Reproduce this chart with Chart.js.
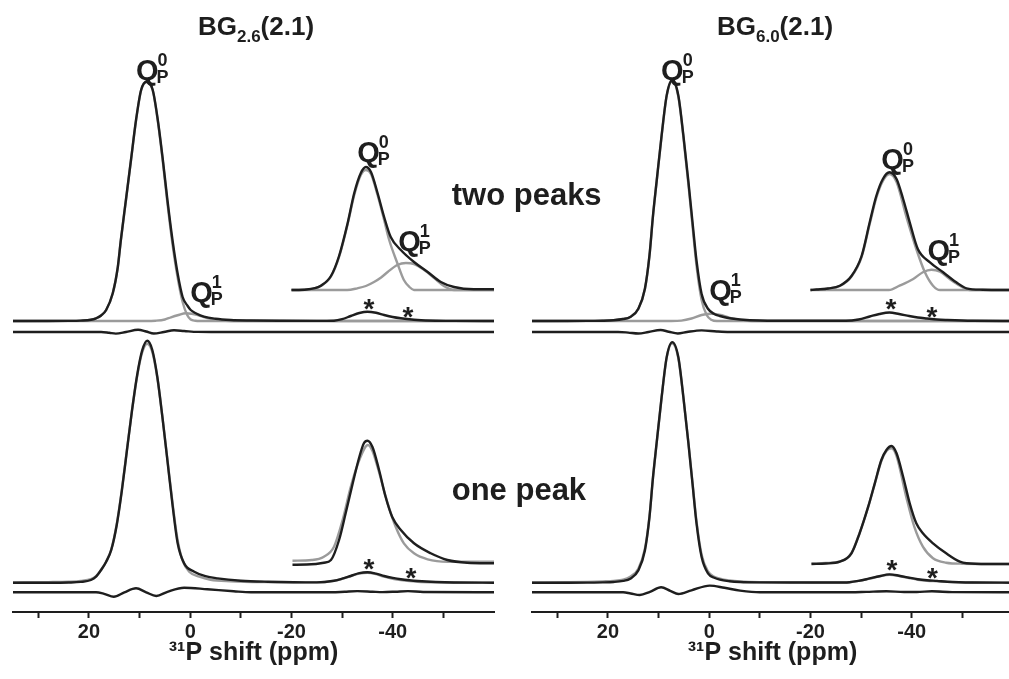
<!DOCTYPE html>
<html>
<head>
<meta charset="utf-8">
<script src="https://cdn.jsdelivr.net/npm/chart.js@4.4.1/dist/chart.umd.min.js"></script>
<style>
html,body{margin:0;padding:0;background:#fff;}
#wrap{position:relative;width:1009px;height:679px;overflow:hidden;background:#fff;}
#cl{position:absolute;left:0;top:0;}
#cr{position:absolute;left:519px;top:0;}
</style>
</head>
<body>
<div id="wrap">
<canvas id="cl" width="1009" height="679"></canvas>
<canvas id="cr" width="505" height="679"></canvas>
</div>
<script>
// ---------- axis ----------
const X_MIN = -60, X_MAX = 35;
const TICK_VALUES = [30, 20, 10, 0, -10, -20, -30, -40, -50];
const TICK_LABELED = [20, 0, -20, -40];
const AXIS_TITLE = '\u00B3\u00B9P shift (ppm)';

// ---------- trace baselines (intensity units) ----------
const BASE_TOP = 291, BASE_TOP_DIFF = 280, BASE_TOP_INSET = 322;
const BASE_BOT = 29.3, BASE_BOT_DIFF = 19.7, BASE_BOT_INSET = 48;

// ================= LEFT : BG2.6(2.1) =================
// two-peak fit, full spectrum
const L2_exp_ppm = [35,28,24,21.6,19.6,18.6,17.6,16.6,15.3,14.3,13.7,12.7,11.7,10.7,9.7,8.6,7.4,6.4,5.4,4.5,3.5,2.5,1.5,0.5,-0.1,-1.2,-2.7,-5,-8,-12,-18,-25,-28.4,-30,-31.7,-33.4,-35,-36.7,-38.3,-40,-41.6,-43.3,-44.9,-48.5,-52,-60];
const L2_exp     = [0,0,0.1,0.4,1.2,2.7,5.5,11,27.7,54,81,121,161,201,231,239.3,231,201,161,121,81,48,24,15,11,7.5,4.3,2.2,1,0.5,0.2,0.1,0.3,1.8,5,8,9.3,8.2,6,4,2.7,1.7,1,0.3,0.1,0];
const L2_q0_ppm  = [35,24,21.6,19.6,18.6,17.6,16.6,15.3,14.3,13.7,12.7,11.7,10.7,9.7,8.6,7.4,6.4,5.4,4.5,3.5,2.5,1.5,0.6,-0.1,-1,-2,-60];
const L2_q0      = [0,0.1,0.4,1.2,2.7,5.5,11,27.5,53.5,80.5,120.5,160.5,200.5,230.5,239,230.5,200,159,118,77,44,19,6,1.5,0.3,0,0];
const L2_q1_ppm  = [35,9,6.8,5,3.8,2.3,0.9,-0.3,-1.5,-2.7,-4,-5.5,-7,-9,-60];
const L2_q1      = [0,0,0.3,1.5,3.7,6,7.7,7.2,5.8,3.8,2.2,1,0.3,0,0];
const L2_diff_ppm= [35,20,17.6,16,14.7,12.7,10.3,8.7,7.2,5.2,3.2,1.2,-1.5,-4.1,-60];
const L2_diff    = [0,0,0,-0.8,-1.6,0,2.2,0.5,-1.5,0,1.7,1,0.1,0,0];
// two-peak fit, sideband inset
const L2i_exp_ppm= [-20,-23,-25.8,-27.8,-29.4,-31.1,-32.4,-33.7,-34.7,-35.7,-37,-38.3,-39.6,-41.6,-44.2,-46.9,-49.5,-52.1,-56,-60];
const L2i_exp    = [0,0.5,4.3,14,34,67,97,117,123,118,97,73,53,40,28,18,8,3,0.7,0.7];
const L2i_q0_ppm = [-20,-23,-25.8,-27.8,-29.4,-31.1,-32.4,-33.7,-34.7,-35.7,-37,-38.3,-39.3,-40.9,-42.2,-43.3,-44.2,-60];
const L2i_q0     = [0,0.5,4,13.5,33,66,95,115,120,116,95,70,50,27,10,3,0,0];
const L2i_q1_ppm = [-20,-31,-33,-34.7,-36.3,-37.7,-39,-40.9,-42.6,-44.2,-46.2,-48.2,-50.1,-52.1,-60];
const L2i_q1     = [0,0,1.7,4,8,12.5,18,25,27,26,20,12,4,0,0];
// one-peak fit, full spectrum
const L1_exp_ppm = [35,28,24,21.6,19.6,18.6,17.6,16.6,15.6,14.5,13.5,12.5,11.5,10.5,9.5,8.5,7.5,6.5,5.5,4.5,3.5,2.5,1.2,-0.8,-3,-5.4,-10,-15.3,-25,-28.4,-30,-31.7,-33.4,-35,-36.7,-38.3,-40,-41.6,-43.3,-44.9,-48.5,-52,-60];
const L1_exp     = [0,0,0.2,0.8,2.7,6,12.7,21,32.7,58,92,132,172,207,232,242,233,206,166,122,78,40,19.3,11,6.5,4.3,2,1,0.3,2,4,6.7,9.5,10.4,9,6.7,4.8,3.4,2.4,1.7,0.7,0.2,0];
const L1_fit_ppm = [35,28,24,21.6,19.6,18.6,17.6,16.6,15.6,14.5,13.5,12.5,11.5,10.5,9.5,8.5,7.5,6.5,5.5,4.5,3.5,2.5,1.5,0.2,-1.8,-4,-8,-15,-25,-28.4,-30,-31.7,-33.4,-35,-36.7,-38.3,-40,-41.6,-43.3,-44.9,-48.5,-52,-60];
const L1_fit     = [0.3,0.6,1,1.8,3.6,6.5,13,21,33,59,93,133,172,206,230,239,231,205,166,123,80,43,22,11,6,3,1.5,0.6,0.3,1.8,3.8,6.5,9.2,10,8.6,6,4,2.6,1.6,1,0.4,0.2,0];
const L1_diff_ppm= [35,20,18.6,17,15.1,13,10.7,8.7,6.7,4.5,1.2,-3.4,-8.6,-12,-28,-30.5,-33,-36,-38,-40.5,-43,-46,-60];
const L1_diff    = [0,0,0,-1.5,-4.4,0,4,0,-3.7,0.5,4.6,3,1,0,0,0.6,1.2,0.6,0.2,0.6,1.2,0.3,0];
// one-peak fit, sideband inset
const L1i_exp_ppm= [-20.2,-23,-26.4,-27.8,-29.4,-30.7,-32.1,-33.4,-34.3,-35,-36,-37.3,-38.6,-39.9,-41.6,-44.2,-47.5,-50.8,-54.7,-60];
const L1i_exp    = [-0.7,-0.5,1.3,4,24,50.7,80.7,107,120.7,123.3,117,94,67,47,34,20.7,10.7,4,1.3,0.7];
const L1i_fit_ppm= [-20.2,-24,-26.4,-28.4,-30.1,-31.7,-33.4,-35.1,-36,-37,-39,-40.6,-42.2,-44.2,-46.9,-50.8,-60];
const L1i_fit    = [3.3,4,7.3,17.3,44,77,104,119,113,97,60.7,37,20.7,10.7,4.7,2.3,2.3];

// ================= RIGHT : BG6.0(2.1) =================
const R2_exp_ppm = [35,28,24,21,18.9,17,15.6,14,12.7,11.8,11.1,10.4,9.4,8.4,7.3,6.1,5.1,4.1,3.3,2.5,1.5,0.2,-1,-2.1,-4,-6.1,-10,-18,-27,-29.5,-31.7,-33.6,-35.6,-37.5,-39.5,-41.2,-43,-45,-47,-52,-60];
const R2_exp     = [0,0,0.1,0.3,0.8,2,4,12.3,32.3,65.6,105.6,139,185.6,225.6,241,225.6,185.6,139,99,60,27,12,7,5,2.7,1.5,0.5,0.2,0.2,1.5,4.5,7,8.5,7,5,3.5,2.5,1.5,1,0.2,0];
const R2_q0_ppm  = [35,24,21,18.9,17,15.6,14,12.7,11.8,11.1,10.4,9.4,8.4,7.3,6.1,5.1,4.1,3.3,2.5,1.5,0.5,-0.5,-1.5,-60];
const R2_q0      = [0,0.1,0.3,0.8,2,4,12,32,65,105,138.5,185,225,240,224.5,184,136,95,55,21,6,1,0,0];
const R2_q1_ppm  = [35,7.5,5.5,3.5,1.5,-0.5,-2.5,-4.5,-6.5,-8.5,-60];
const R2_q1      = [0,0,0.4,2.5,6,7.3,5.8,2.5,0.6,0,0];
const R2_diff_ppm= [35,18,16,14,12,9.6,8,6.2,4.4,1.5,-1.5,-4,-60];
const R2_diff    = [0,0,-0.6,-1.5,0,2,0.3,-1.5,0,1.6,0.5,0,0];
const R2i_exp_ppm= [-20,-21.2,-23.5,-25.8,-28.1,-30.1,-31.7,-33,-34.3,-35.6,-37,-38.3,-39.6,-41.2,-43.6,-46.2,-48.8,-50.8,-54,-60];
const R2i_exp    = [0,0.5,1.5,4.3,14,34,67.7,94,111,117.7,111,91,67.7,41,27.7,17.7,7.7,1.7,0.3,0];
const R2i_q0_ppm = [-20,-23.5,-25.8,-28.1,-30.1,-31.7,-33,-34.3,-35.6,-37,-38.9,-40.9,-42.6,-44.2,-45.6,-60];
const R2i_q0     = [0,1.5,4,13.5,33,66,92,109,116,108,74,41,17.7,4.3,0,0];
const R2i_q1_ppm = [-20,-35.5,-37.6,-40.3,-42.2,-43.9,-45.6,-47.5,-49.5,-51.4,-60];
const R2i_q1     = [0,0,4.3,11,17.7,20.3,18.3,11,4.3,0,0];
const R1_exp_ppm = [35,28,24,21,18.9,17,15.6,14,12.7,11.8,11.1,10.4,9.4,8.4,7.3,6.1,5.1,4.1,3.3,2.5,1.5,0.2,-1,-2.1,-4,-6.1,-10,-18,-25,-27.7,-29.5,-31.5,-33.6,-35.6,-37.5,-39.5,-41.2,-43,-45,-47,-52,-60];
const R1_exp     = [0,0,0.1,0.3,0.7,1.8,4,12.3,32.3,65.6,105.6,139,185.6,225.6,240.6,225.6,185.6,139,99,59,25.6,9,5,3,1.5,0.7,0.3,0.2,0.2,0.5,1.8,4,6.5,8.3,7,5,3.5,2.5,1.8,1,0.2,0];
const R1_fit     = [0.3,0.5,0.8,1.3,1.8,3,6,14,34,66,105,138.5,185,225,239.5,224.5,185,139.5,100,61,28,11,6,4,2.2,1.2,0.5,0.3,0.2,0.5,1.8,3.8,6.3,8,6.7,4.6,3,2,1.4,0.8,0.2,0];
const R1_diff_ppm= [35,20,17,15.5,13.7,11.7,9.5,7.7,6.1,3.5,-0.1,-3,-6.1,-10,-28,-31,-35,-38.5,-41,-44,-48,-60];
const R1_diff    = [0,0,0,-1.2,-2.7,0.5,5,1.5,-1.7,2,6.7,4.5,1.7,0,0,0.4,1,0.3,0.3,1,0.2,0];
const R1i_exp_ppm= [-20.2,-23,-25.8,-28.1,-29.7,-31.4,-32.7,-34,-35,-36,-37,-38.3,-39.6,-40.9,-42.2,-44.2,-46.8,-49.5,-50.8,-55,-60];
const R1i_exp    = [0,0.5,2.3,10.7,30.7,57.3,80.7,104,114,118,110.7,87.3,60.7,40.7,30.7,20.7,10.7,2.3,0.7,0,0];
const R1i_fit_ppm= [-20.2,-23,-25.8,-28.1,-29.7,-31.4,-32.7,-34,-35,-36,-37,-38.9,-40.5,-42.2,-44.2,-46.8,-50,-60];
const R1i_fit    = [0.5,1,2.5,11,31,57,80,103,113,115.7,108,67.3,37.3,17.3,5.7,1.3,0.3,0];

// ---------- labels (data coordinates: ppm, intensity) ----------
const L_LABELS = [
  {kind:'title', main:'BG', sub:'2.6', tail:'(2.1)', x:-13.0, y:577},
  {kind:'q', sup:'0', x:10.7, y:532},
  {kind:'q', sup:'1', x:0.0, y:310},
  {kind:'q', sup:'0', x:-33.0, y:450},
  {kind:'q', sup:'1', x:-41.1, y:361},
  {kind:'ast', x:-35.3, y:310}, {kind:'ast', x:-43.0, y:302},
  {kind:'ast', x:-35.3, y:50},  {kind:'ast', x:-43.6, y:41},
  {kind:'text', text:'two peaks', x:-51.65, y:407},
  {kind:'text', text:'one peak',  x:-51.65, y:112}
];
const R_LABELS = [
  {kind:'title', main:'BG', sub:'6.0', tail:'(2.1)', x:-13.0, y:577},
  {kind:'q', sup:'0', x:9.5, y:532},
  {kind:'q', sup:'1', x:0.0, y:312},
  {kind:'q', sup:'0', x:-34.0, y:443},
  {kind:'q', sup:'1', x:-43.1, y:352},
  {kind:'ast', x:-35.9, y:310}, {kind:'ast', x:-44.0, y:302},
  {kind:'ast', x:-36.1, y:49},  {kind:'ast', x:-44.1, y:41}
];

// ---------- rendering ----------
const FONT = '"Liberation Sans", Arial, Helvetica, sans-serif';
const INK = '#1e1e1e', GREY = '#9b9b9b';

function pts(ppm, vals, base){ return ppm.map((p,i)=>({x:p, y:base+vals[i]})); }
function line(data, color, order){
  return {data, borderColor:color, borderWidth:2.4, pointRadius:0, fill:false,
          cubicInterpolationMode:'monotone', order, borderJoinStyle:'round'};
}

function annotPlugin(items){
  return {
    id:'annot',
    afterDatasetsDraw(chart){
      const ctx = chart.ctx, xs = chart.scales.x, ys = chart.scales.y;
      ctx.save();
      ctx.fillStyle = INK;
      ctx.textBaseline = 'alphabetic';
      for (const a of items){
        const px = xs.getPixelForValue(a.x), py = ys.getPixelForValue(a.y);
        if (a.kind === 'q'){
          ctx.textAlign = 'left';
          ctx.font = `bold 29px ${FONT}`;
          ctx.fillText('Q', px, py);
          const w = ctx.measureText('Q').width;
          ctx.font = `bold 18px ${FONT}`;
          ctx.fillText(a.sup, px + w - 1, py - 14);
          ctx.fillText('P', px + w - 2, py + 3);
        } else if (a.kind === 'ast'){
          ctx.textAlign = 'center';
          ctx.font = `bold 28px ${FONT}`;
          ctx.fillText('*', px, py + 16);
        } else if (a.kind === 'text'){
          ctx.textAlign = 'left';
          ctx.font = `bold 31px ${FONT}`;
          ctx.fillText(a.text, px, py);
        } else if (a.kind === 'title'){
          ctx.textAlign = 'left';
          const big = `bold 26px ${FONT}`, small = `bold 17px ${FONT}`;
          ctx.font = big; const w1 = ctx.measureText(a.main).width, w3 = ctx.measureText(a.tail).width;
          ctx.font = small; const w2 = ctx.measureText(a.sub).width;
          let x0 = px - (w1 + w2 + w3) / 2;
          ctx.font = big; ctx.fillText(a.main, x0, py);
          ctx.font = small; ctx.fillText(a.sub, x0 + w1, py + 7);
          ctx.font = big; ctx.fillText(a.tail, x0 + w1 + w2, py);
        }
      }
      ctx.restore();
    }
  };
}

function makeChart(canvasId, padRight, datasets, labels){
  return new Chart(document.getElementById(canvasId), {
    type:'line',
    data:{datasets},
    options:{
      responsive:false, animation:false, events:[],
      layout:{padding:{left:13, right:padRight, top:0, bottom:0}},
      plugins:{legend:{display:false}, tooltip:{enabled:false}},
      scales:{
        x:{
          type:'linear', min:X_MIN, max:X_MAX, reverse:true,
          afterBuildTicks(s){ s.ticks = TICK_VALUES.map(v=>({value:v})); },
          afterFit(s){ s.height = 67; },
          ticks:{ autoSkip:false, maxRotation:0, padding:2, color:INK,
                  font:{family:FONT, size:20, weight:'bold'},
                  callback:v => TICK_LABELED.includes(v) ? String(v) : '' },
          grid:{ drawOnChartArea:false, drawTicks:true, tickLength:6, tickWidth:2, tickColor:INK },
          border:{ display:true, color:INK, width:2 },
          title:{ display:true, text:AXIS_TITLE, color:INK,
                  font:{family:FONT, size:25, weight:'bold'}, padding:{top:0, bottom:11} }
        },
        y:{ display:false, min:0, max:612 }
      }
    },
    plugins:[annotPlugin(labels)]
  });
}

const leftSets = [
  line(pts(L2_exp_ppm, L2_exp, BASE_TOP), INK, 0),
  line(pts(L2_q0_ppm, L2_q0, BASE_TOP), GREY, 1),
  line(pts(L2_q1_ppm, L2_q1, BASE_TOP), GREY, 1),
  line(pts(L2_diff_ppm, L2_diff, BASE_TOP_DIFF), INK, 0),
  line(pts(L2i_exp_ppm, L2i_exp, BASE_TOP_INSET), INK, 0),
  line(pts(L2i_q0_ppm, L2i_q0, BASE_TOP_INSET), GREY, 1),
  line(pts(L2i_q1_ppm, L2i_q1, BASE_TOP_INSET), GREY, 1),
  line(pts(L1_exp_ppm, L1_exp, BASE_BOT), INK, 0),
  line(pts(L1_fit_ppm, L1_fit, BASE_BOT), GREY, 1),
  line(pts(L1_diff_ppm, L1_diff, BASE_BOT_DIFF), INK, 0),
  line(pts(L1i_exp_ppm, L1i_exp, BASE_BOT_INSET), INK, 0),
  line(pts(L1i_fit_ppm, L1i_fit, BASE_BOT_INSET), GREY, 1)
];
const rightSets = [
  line(pts(R2_exp_ppm, R2_exp, BASE_TOP), INK, 0),
  line(pts(R2_q0_ppm, R2_q0, BASE_TOP), GREY, 1),
  line(pts(R2_q1_ppm, R2_q1, BASE_TOP), GREY, 1),
  line(pts(R2_diff_ppm, R2_diff, BASE_TOP_DIFF), INK, 0),
  line(pts(R2i_exp_ppm, R2i_exp, BASE_TOP_INSET), INK, 0),
  line(pts(R2i_q0_ppm, R2i_q0, BASE_TOP_INSET), GREY, 1),
  line(pts(R2i_q1_ppm, R2i_q1, BASE_TOP_INSET), GREY, 1),
  line(pts(R1_exp_ppm, R1_exp, BASE_BOT), INK, 0),
  line(pts(R1_exp_ppm, R1_fit, BASE_BOT), GREY, 1),
  line(pts(R1_diff_ppm, R1_diff, BASE_BOT_DIFF), INK, 0),
  line(pts(R1i_exp_ppm, R1i_exp, BASE_BOT_INSET), INK, 0),
  line(pts(R1i_fit_ppm, R1i_fit, BASE_BOT_INSET), GREY, 1)
];

makeChart('cl', 1009 - 494, leftSets, L_LABELS);
makeChart('cr', 505 - 494, rightSets, R_LABELS);
</script>
</body>
</html>
